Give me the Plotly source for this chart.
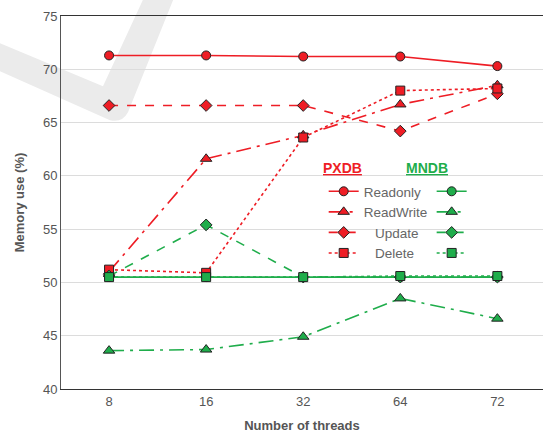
import plotly.graph_objects as go

threads = ["8", "16", "32", "64", "72"]
series_names = ["Readonly", "ReadWrite", "Update", "Delete"]

px_readonly = [71.3, 71.3, 71.2, 71.2, 70.3]
px_readwrite = [51.0, 61.6, 63.8, 66.7, 68.5]
px_update = [66.6, 66.6, 66.6, 64.2, 67.7]
px_delete = [51.2, 50.9, 63.6, 68.0, 68.2]

mn_readonly = [50.5, 50.5, 50.5, 50.5, 50.5]
mn_readwrite = [43.6, 43.7, 44.9, 48.5, 46.6]
mn_update = [50.6, 55.4, 50.5, 50.5, 50.5]
mn_delete = [50.5, 50.5, 50.5, 50.6, 50.6]

y_ticks = [40, 45, 50, 55, 60, 65, 70, 75]

RED = "#ee1d25"
GREEN = "#1fad4b"
dashes = ["solid", "longdashdot", "dash", "dot"]
symbols = ["circle", "triangle-up", "diamond", "square"]
sizes = [9, 10, 9, 9]
pad = ["", "", "\u00a0\u00a0\u00a0", "\u00a0\u00a0\u00a0"]

fig = go.Figure()
for i, (name, vals) in enumerate(zip(series_names, [px_readonly, px_readwrite, px_update, px_delete])):
    fig.add_trace(go.Scatter(
        x=threads, y=vals, mode="lines+markers", name=pad[i] + name,
        line=dict(color=RED, width=1.6, dash=dashes[i]),
        marker=dict(symbol=symbols[i], size=sizes[i], color=RED, line=dict(color="#222", width=1)),
        legend="legend",
    ))
for i, (name, vals) in enumerate(zip(series_names, [mn_readonly, mn_readwrite, mn_update, mn_delete])):
    fig.add_trace(go.Scatter(
        x=threads, y=vals, mode="lines+markers", name="\u00a0",
        line=dict(color=GREEN, width=1.6, dash=dashes[i]),
        marker=dict(symbol=symbols[i], size=sizes[i], color=GREEN, line=dict(color="#222", width=1)),
        legend="legend2",
    ))

# watermark swoosh (decoration), pixel coords -> paper coords
L, R, T, B = 61, 543, 15.7, 389.3
def P(px, py):
    return f"{(px - L) / (R - L):.4f},{(B - py) / (B - T):.4f}"
path = ("M " + P(0, 43) + " L " + P(103, 86) + " L " + P(145, -5) + " L " + P(175, -5)
        + " L " + P(128, 112) + " Q " + P(122, 123) + " " + P(110, 120) + " L " + P(0, 71) + " Z")
fig.add_shape(type="path", path=path, xref="paper", yref="paper",
              fillcolor="#ebebeb", line=dict(width=0), layer="below")

fig.update_layout(
    width=543, height=435,
    margin=dict(l=61, r=0, t=16, b=46),
    paper_bgcolor="white",
    plot_bgcolor="rgba(0,0,0,0)",
    hovermode=False,
    font=dict(family="Liberation Sans, Arial, sans-serif", color="#555"),
    xaxis=dict(
        type="category", range=[-0.495, 4.47], automargin=False,
        showline=True, linecolor="#333", linewidth=1, mirror=True,
        showgrid=False, ticks="", tickfont=dict(size=13, color="#555"),
        title=dict(text="<b>Number of threads</b>", font=dict(size=13, color="#555"), standoff=13),
    ),
    yaxis=dict(
        range=[40, 75], tickvals=y_ticks, automargin=False,
        showline=True, linecolor="#555", linewidth=1,
        showgrid=True, gridcolor="#dcdcdc", gridwidth=1,
        zeroline=False, ticks="", tickfont=dict(size=13, color="#555"),
        title=dict(text="<b>Memory use (%)</b>", font=dict(size=13, color="#555"), standoff=15),
    ),
    legend=dict(x=0.545, y=0.571, xanchor="left", yanchor="top",
                bgcolor="rgba(0,0,0,0)", font=dict(size=13.5, color="#666"),
                tracegroupgap=0),
    legend2=dict(x=0.769, y=0.571, xanchor="left", yanchor="top",
                 bgcolor="rgba(0,0,0,0)", font=dict(size=13.5, color="#666"),
                 tracegroupgap=0),
    annotations=[
        dict(text='<b><span style="text-decoration:underline">PXDB</span></b>',
             x=(342 - L) / (R - L), y=(B - 168) / (B - T), xref="paper", yref="paper",
             showarrow=False, font=dict(size=14, color=RED)),
        dict(text='<b><span style="text-decoration:underline">MNDB</span></b>',
             x=(450 - L) / (R - L), y=(B - 168) / (B - T), xref="paper", yref="paper",
             showarrow=False, font=dict(size=14, color=GREEN)),
    ],
)

fig.write_html("out.html", config={"displayModeBar": False},
               post_script="document.body.style.margin='0';")
